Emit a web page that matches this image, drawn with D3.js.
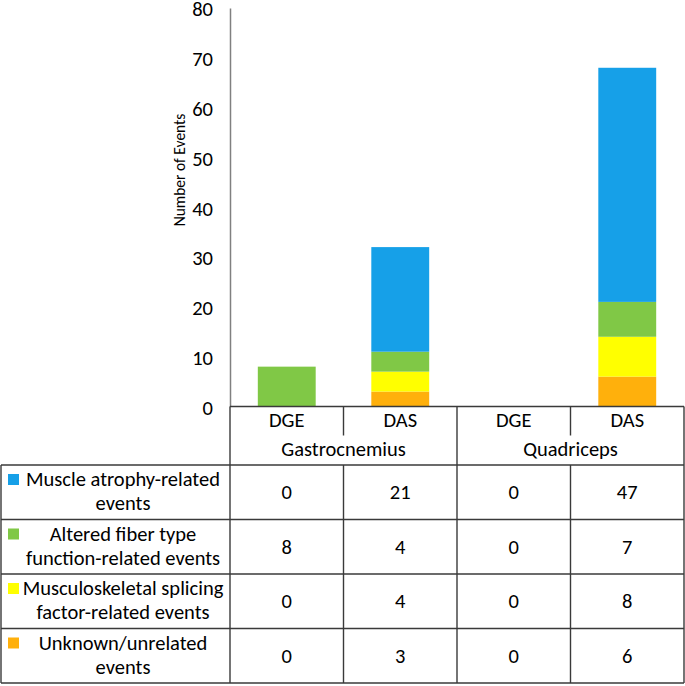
<!DOCTYPE html>
<html><head><meta charset="utf-8">
<script src="https://cdn.jsdelivr.net/npm/d3@7"></script>
<style>body{margin:0;background:#fff}svg{display:block}text{font-family:Carlito,Calibri,Lato,sans-serif;fill:#000}</style>
</head><body>
<svg id="c" width="685" height="686"></svg>
<script>
const groups = ["Gastrocnemius", "Quadriceps"];
const methods = ["DGE", "DAS"];
const columns = ["Gastrocnemius|DGE", "Gastrocnemius|DAS", "Quadriceps|DGE", "Quadriceps|DAS"];
const seriesNames = ["Muscle atrophy-related events", "Altered fiber type function-related events", "Musculoskeletal splicing factor-related events", "Unknown/unrelated events"];
const legendLines = [["Muscle atrophy-related", "events"], ["Altered fiber type", "function-related events"], ["Musculoskeletal splicing", "factor-related events"], ["Unknown/unrelated", "events"]];
const atrophy = [0, 21, 0, 47];
const fiber = [8, 4, 0, 7];
const splicing = [0, 4, 0, 8];
const unknown = [0, 3, 0, 6];
const colors = ["#16a0e8", "#80c846", "#ffff00", "#ffb00c"];
const yTicks = [0, 10, 20, 30, 40, 50, 60, 70, 80];

const values = [atrophy, fiber, splicing, unknown];
const svg = d3.select("#c");
const x0 = 230, x1 = 684, yTop = 8, yBase = 406.5;
const FS = 20.5;
const x = d3.scaleBand().domain(columns).range([x0, x1]).paddingInner(0).paddingOuter(0);
const xg = d3.scaleBand().domain(groups).range([x0, x1]);
const y = d3.scaleLinear().domain([0, 80]).range([yBase, yTop]);
const bw = x.bandwidth() * 0.51;

// stacked bars: bottom unknown, splicing, fiber, atrophy top
const table = columns.map((c, i) => ({col: c, atrophy: atrophy[i], fiber: fiber[i], splicing: splicing[i], unknown: unknown[i]}));
const keys = ["unknown", "splicing", "fiber", "atrophy"];
const keyColor = {atrophy: colors[0], fiber: colors[1], splicing: colors[2], unknown: colors[3]};
const stack = d3.stack().keys(keys)(table);
svg.append("g").selectAll("g").data(stack).join("g").attr("fill", d => keyColor[d.key])
  .selectAll("rect").data(d => d.map(p => ({p, col: p.data.col}))).join("rect")
  .filter(d => d.p[1] > d.p[0])
  .attr("x", d => x(d.col) + (x.bandwidth() - bw) / 2)
  .attr("width", bw)
  .attr("y", d => y(d.p[1]))
  .attr("height", d => y(d.p[0]) - y(d.p[1]));

// y axis
const yAxis = d3.axisLeft(y).tickValues(yTicks).tickSize(0).tickPadding(17);
const ga = svg.append("g").attr("transform", `translate(${x0},0)`).call(yAxis);
ga.select(".domain").attr("stroke", "#808080").attr("stroke-width", 1.5);
ga.selectAll("text").attr("font-size", FS).attr("dy", "0.38em").style("font-family", "Carlito,Calibri,Lato,sans-serif").attr("fill", "#000");

svg.append("text").attr("transform", `translate(185,170) rotate(-90)`).attr("text-anchor", "middle")
  .attr("font-size", 15.5).text("Number of Events");

// table lines
const line = (xa, ya, xb, yb) => svg.append("line").attr("x1", xa).attr("y1", ya).attr("x2", xb).attr("y2", yb)
  .attr("stroke", "#3a3a3a").attr("stroke-width", 1.4);
const rowTop = 465, rowH = 54.5;
line(x0, yBase, x1, yBase);
line(x0, yBase, x0, 683);
line(x1, yBase, x1, 683);
line(xg("Quadriceps"), yBase, xg("Quadriceps"), 683);
columns.forEach(c => { if (c.endsWith("DAS")) line(x(c), yBase, x(c), 435.5); });
columns.forEach(c => { if (c.endsWith("DAS")) line(x(c), rowTop, x(c), 683); });
for (let r = 0; r <= 4; r++) line(1, rowTop + r * rowH, x1, rowTop + r * rowH);
line(1, rowTop, 1, 683);

// header text
columns.forEach(c => {
  svg.append("text").attr("x", x(c) + x.bandwidth() / 2).attr("y", 427).attr("text-anchor", "middle")
    .attr("font-size", FS).text(c.split("|")[1]);
});
groups.forEach(g => {
  svg.append("text").attr("x", xg(g) + xg.bandwidth() / 2).attr("y", 456).attr("text-anchor", "middle")
    .attr("font-size", FS).text(g);
});

// rows
seriesNames.forEach((s, r) => {
  const top = rowTop + r * rowH;
  svg.append("rect").attr("x", 8).attr("y", top + 9).attr("width", 11).attr("height", 11).attr("fill", colors[r]);
  legendLines[r].forEach((t, k) => {
    svg.append("text").attr("x", 123).attr("y", top + 21 + k * 24).attr("text-anchor", "middle")
      .attr("font-size", FS).text(t);
  });
  columns.forEach((c, i) => {
    svg.append("text").attr("x", x(c) + x.bandwidth() / 2).attr("y", top + rowH / 2 + 7).attr("text-anchor", "middle")
      .attr("font-size", FS).text(values[r][i]);
  });
});
</script>
</body></html>
